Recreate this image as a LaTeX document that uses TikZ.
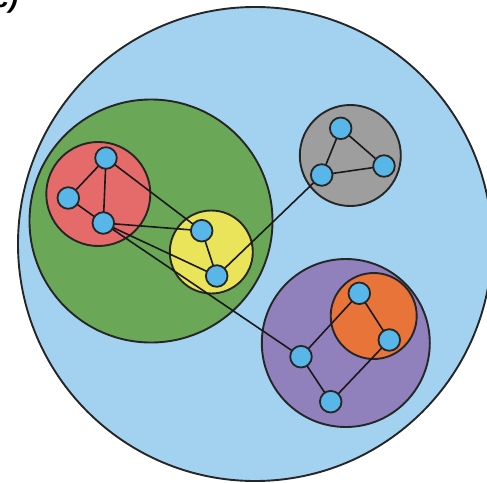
\documentclass[tikz,border=0pt]{standalone}
\usepackage{fontspec}
\setmainfont{Liberation Sans}
\definecolor{bgblue}{RGB}{163,210,240}
\definecolor{nodeblue}{RGB}{88,182,232}
\definecolor{cgreen}{RGB}{106,168,88}
\definecolor{cred}{RGB}{229,107,107}
\definecolor{cyellow}{RGB}{234,228,90}
\definecolor{cgray}{RGB}{158,158,158}
\definecolor{cpurple}{RGB}{144,128,188}
\definecolor{corange}{RGB}{232,116,58}
\tikzset{
  group/.style={draw=black!85,line width=0.95pt},
  vert/.style={circle,draw=black!85,fill=nodeblue,line width=0.9pt,minimum size=10.8pt,inner sep=0pt},
  link/.style={draw=black!90,line width=0.8pt}
}
\begin{document}
\begin{tikzpicture}[x=0.5pt,y=-0.5pt]
\useasboundingbox (0,0) rectangle (487,482);
\node[anchor=base west,font=\fontsize{14}{16}\selectfont\bfseries\itshape,inner sep=0pt] (lbl) at (-7,7) {c)};
% groups
\path[group,fill=bgblue] (255,244) circle[radius=118.5pt];
\path[group,fill=cgreen] (151,221) circle[radius=60.75pt];
\path[group,fill=cred] (98.3,194) circle[radius=26pt];
\path[group,fill=cyellow] (211.3,252) circle[radius=20.75pt];
\path[group,fill=cgray] (350.3,155.5) circle[radius=25.25pt];
\path[group,fill=cpurple] (345.8,343) circle[radius=42pt];
\path[group,fill=corange] (373.7,316) circle[radius=21.5pt];
% vertices (coordinates first)
\coordinate (r1) at (106,158);
\coordinate (r2) at (68.3,198);
\coordinate (r3) at (103.3,223);
\coordinate (y1) at (201.7,230.7);
\coordinate (y2) at (216.7,276);
\coordinate (g1) at (340.7,128.3);
\coordinate (g2) at (384,166);
\coordinate (g3) at (321.7,175);
\coordinate (o1) at (359.3,293.3);
\coordinate (o2) at (389.3,340);
\coordinate (p1) at (301,356.7);
\coordinate (p2) at (330.7,401.7);
% links
\draw[link] (r1) -- (r2) (r1) -- (r3) (r2) -- (r3);
\draw[link] (r1) -- (y1) (r3) -- (y1) (r3) -- (y2) (r3) -- (p1);
\draw[link] (y1) -- (y2) (y2) -- (g3);
\draw[link] (g1) -- (g2) (g1) -- (g3) (g2) -- (g3);
\draw[link] (o1) -- (o2) (o1) -- (p1) (o2) -- (p2) (p1) -- (p2);
% vertex nodes
\foreach \v in {r1,r2,r3,y1,y2,g1,g2,g3,o1,o2,p1,p2}
  \node[vert] (n\v) at (\v) {};
\end{tikzpicture}
\end{document}
